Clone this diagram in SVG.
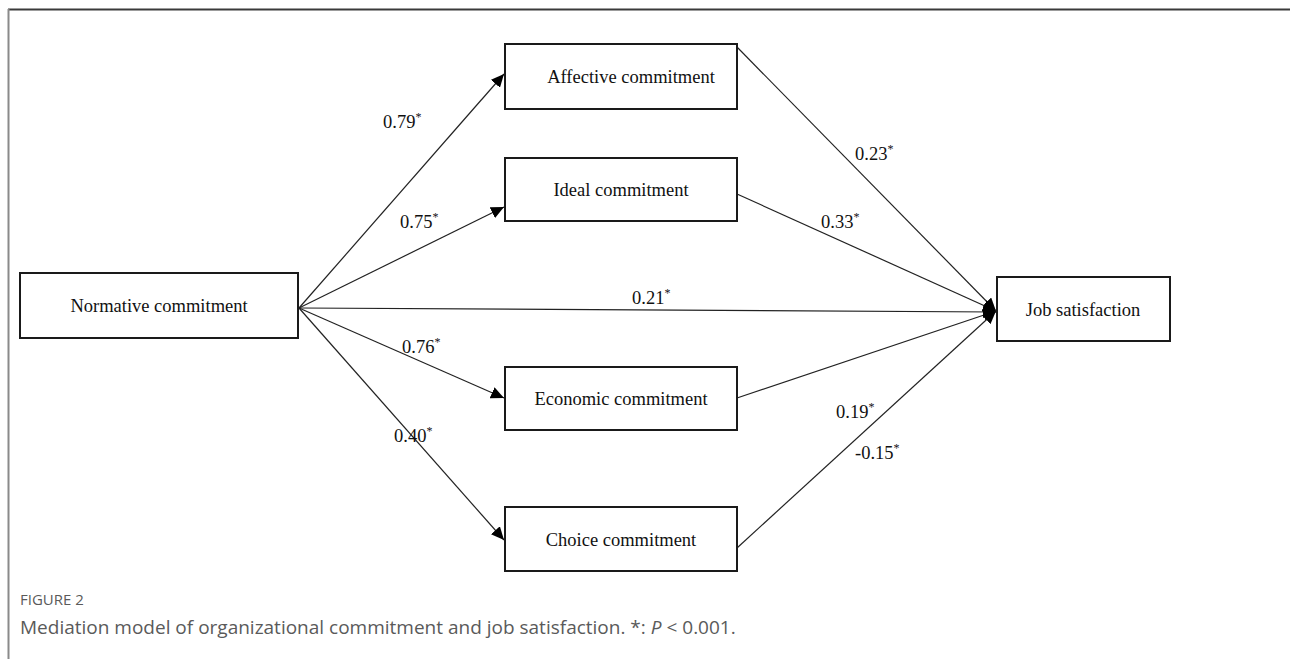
<svg xmlns="http://www.w3.org/2000/svg" width="1290" height="659" viewBox="0 0 1290 659">
<style>
.box{fill:#fff;stroke:#1a1a1a;stroke-width:2}
.lbl{font-family:"Liberation Serif","Times New Roman",serif;font-size:18.5px;fill:#111}
.num{font-family:"Liberation Serif","Times New Roman",serif;font-size:18.5px;fill:#111}
.sup{font-size:12px}
.conn line{stroke:#222;stroke-width:1.2}
.cap{font-family:"Open Sans","Noto Sans",sans-serif;fill:#5a5a5a}
</style>
<defs>
<marker id="ah" markerUnits="userSpaceOnUse" markerWidth="14" markerHeight="12" refX="13" refY="6" orient="auto">
<path d="M0,0 L13,6 L0,12 Z" fill="#000"/>
</marker>
</defs>
<rect width="1290" height="659" fill="#fff"/>
<line x1="8" y1="9.5" x2="1290" y2="9.5" stroke="#3a3a3a" stroke-width="2"/>
<line x1="8.5" y1="9" x2="8.5" y2="659" stroke="#8a8a8a" stroke-width="2"/>
<g class="conn">
<line x1="299" y1="308" x2="504" y2="74" marker-end="url(#ah)"/>
<line x1="299" y1="308" x2="504" y2="207" marker-end="url(#ah)"/>
<line x1="299" y1="308" x2="996" y2="312" marker-end="url(#ah)"/>
<line x1="299" y1="308" x2="504" y2="398" marker-end="url(#ah)"/>
<line x1="299" y1="308" x2="504" y2="540" marker-end="url(#ah)"/>
<line x1="737" y1="47" x2="996" y2="311" marker-end="url(#ah)"/>
<line x1="737" y1="194" x2="996" y2="311" marker-end="url(#ah)"/>
<line x1="737" y1="398" x2="996" y2="311" marker-end="url(#ah)"/>
<line x1="737" y1="548" x2="996" y2="311" marker-end="url(#ah)"/>
</g>
<g id="normative"><rect class="box" x="20" y="273" width="278" height="65"/><text class="lbl" x="159" y="312" text-anchor="middle">Normative commitment</text></g>
<g id="affective"><rect class="box" x="505" y="44" width="232" height="65"/><text class="lbl" x="631" y="83" text-anchor="middle">Affective commitment</text></g>
<g id="ideal"><rect class="box" x="505" y="158" width="232" height="63"/><text class="lbl" x="621" y="196" text-anchor="middle">Ideal commitment</text></g>
<g id="economic"><rect class="box" x="505" y="367" width="232" height="63"/><text class="lbl" x="621" y="405" text-anchor="middle">Economic commitment</text></g>
<g id="choice"><rect class="box" x="505" y="507" width="232" height="64"/><text class="lbl" x="621" y="546" text-anchor="middle">Choice commitment</text></g>
<g id="job"><rect class="box" x="997" y="277" width="173" height="64"/><text class="lbl" x="1083" y="316" text-anchor="middle">Job satisfaction</text></g>
<g id="labels">
<text class="num" x="383" y="128">0.79<tspan class="sup" dy="-7">*</tspan></text>
<text class="num" x="400" y="228">0.75<tspan class="sup" dy="-7">*</tspan></text>
<text class="num" x="632" y="304">0.21<tspan class="sup" dy="-7">*</tspan></text>
<text class="num" x="402" y="353">0.76<tspan class="sup" dy="-7">*</tspan></text>
<text class="num" x="394" y="442">0.40<tspan class="sup" dy="-7">*</tspan></text>
<text class="num" x="855" y="160">0.23<tspan class="sup" dy="-7">*</tspan></text>
<text class="num" x="821" y="228">0.33<tspan class="sup" dy="-7">*</tspan></text>
<text class="num" x="836" y="418">0.19<tspan class="sup" dy="-7">*</tspan></text>
<text class="num" x="855" y="459">-0.15<tspan class="sup" dy="-7">*</tspan></text>
</g>
<text class="cap" x="20" y="605" font-size="15">FIGURE 2</text>
<text class="cap" x="20" y="634" font-size="19">Mediation model of organizational commitment and job satisfaction. *: <tspan font-style="italic">P</tspan> &lt; 0.001.</text>
</svg>
